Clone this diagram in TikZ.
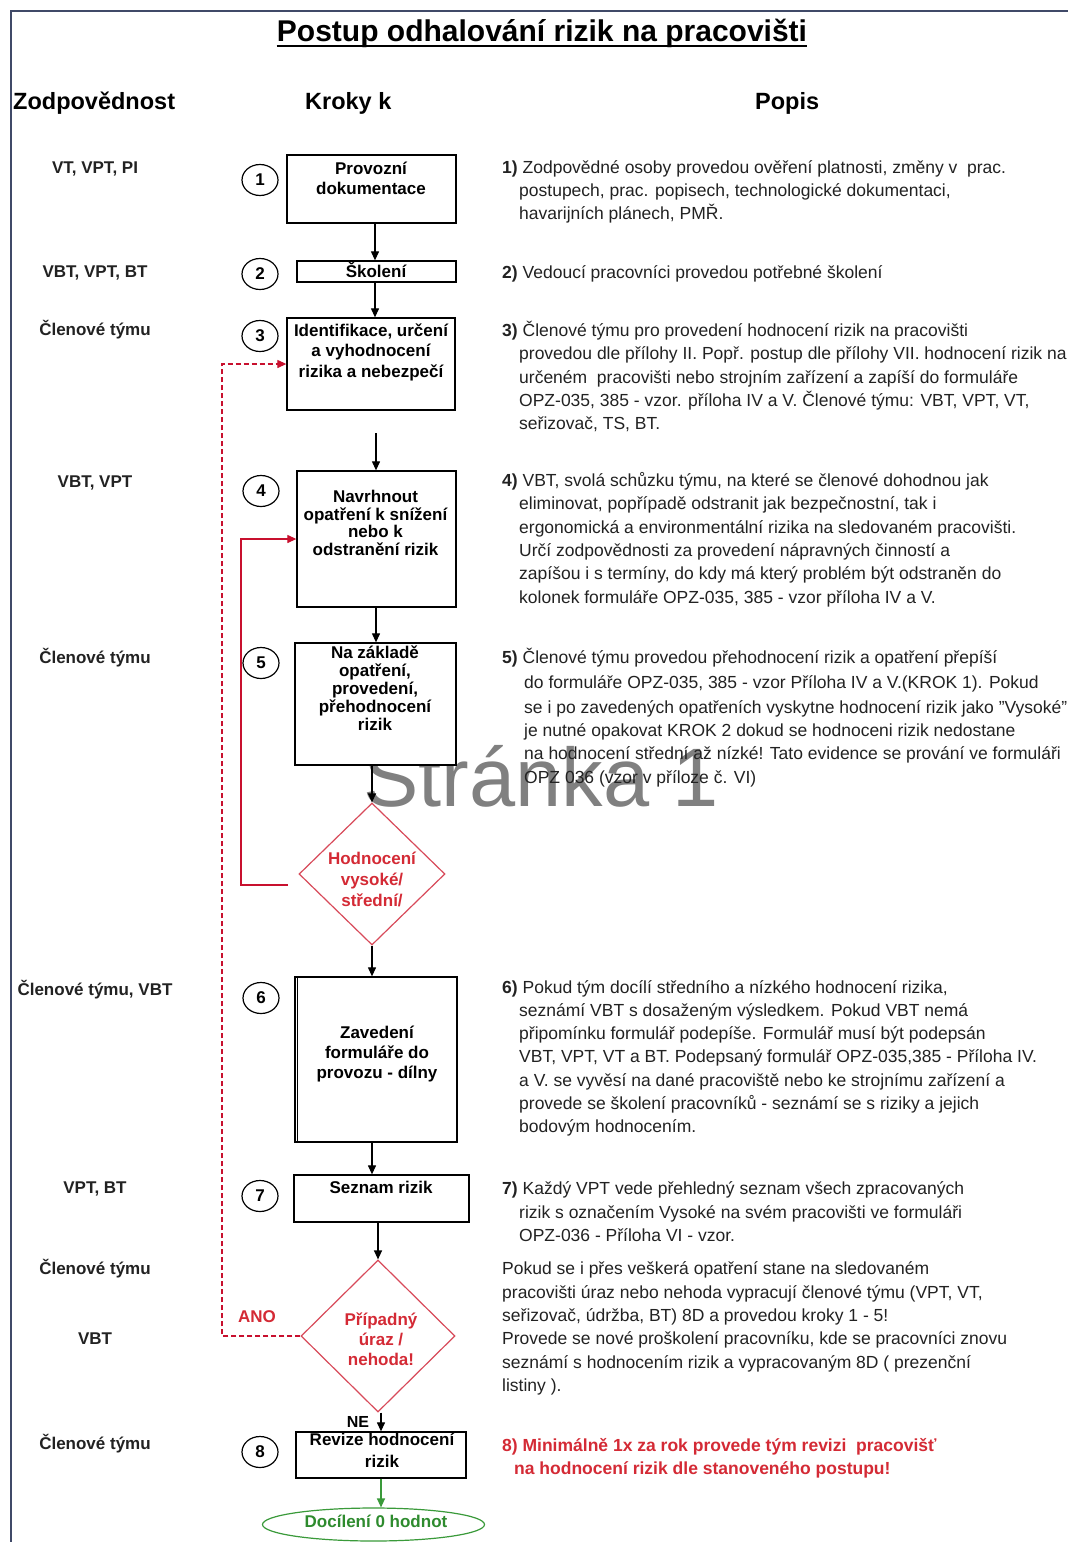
\documentclass[tikz,border=0pt]{standalone}
\usepackage{fontspec}
\setmainfont{Liberation Sans}
\usetikzlibrary{shapes.geometric,arrows.meta}
\definecolor{framec}{HTML}{404A68}
\definecolor{rline}{HTML}{C8102E}
\definecolor{rtext}{HTML}{D42A35}
\definecolor{rdia}{HTML}{D84A5A}
\definecolor{gline}{HTML}{3A9A3A}
\definecolor{gtext}{HTML}{2E8B2E}
\definecolor{txt}{HTML}{222222}
\begin{document}
\begin{tikzpicture}[x=1pt,y=-1pt,
  box/.style={draw=black, line width=1.3pt, rectangle, inner sep=0pt, fill=white},
  btxt/.style={font=\bfseries\fontsize{17}{20}\selectfont, align=center, anchor=base, text=black, inner sep=0pt},
  lab/.style={font=\bfseries\fontsize{17}{20}\selectfont, anchor=base, text=txt, inner sep=0pt},
  head/.style={font=\bfseries\fontsize{23.5}{28}\selectfont, anchor=base west, text=black, inner sep=0pt},
  desc/.style={font=\fontsize{17.5}{23}\selectfont, anchor=base west, text=txt, inner sep=0pt},
  rdesc/.style={font=\bfseries\fontsize{17.5}{23}\selectfont, anchor=base west, text=rtext, inner sep=0pt},
  num/.style={draw=black, line width=1.2pt, ellipse, minimum width=36pt, minimum height=31pt, inner sep=0pt, font=\bfseries\fontsize{17}{20}\selectfont},
  dia/.style={draw=rdia, line width=1.2pt, diamond, inner sep=0pt, fill=white},
  arr/.style={draw=black, line width=1.2pt, -{Triangle[length=9pt,width=8pt]}},
  rarr/.style={draw=rline, line width=1.2pt, -{Triangle[length=9pt,width=8pt]}},
  rdarr/.style={draw=rline, line width=1.2pt, dash pattern=on 5pt off 3pt, -{Triangle[length=9pt,width=8pt]}},
  garr/.style={draw=gline, line width=1.2pt, -{Triangle[length=9pt,width=8pt]}}
]
\useasboundingbox (0,0) rectangle (1068,1542);
\fill[white] (0,0) rectangle (1068,1542);
% frame
\draw[framec, line width=2pt] (11,1542) -- (11,11) -- (1068,11);
% watermark
\node[font=\fontsize{83}{90}\selectfont, text=black!50, anchor=base west, inner sep=0pt] (wm) at (363,806) {Stránka 1};
% title
\node[font=\bfseries\fontsize{30}{36}\selectfont, anchor=base, inner sep=0pt] (title) at (542,41) {Postup odhalování rizik na pracovišti};
\draw[line width=2.5pt] ([yshift=-5pt]title.base west) -- ([yshift=-5pt]title.base east);
% headings
\node[head] (h1) at (13,109) {Zodpovědnost};
\node[head] (h2) at (305,109) {Kroky k};
\node[head] (h3) at (755,109) {Popis};
% left labels
\node[lab] (l1) at (95,173) {VT, VPT, PI};
\node[lab] (l2) at (95,277) {VBT, VPT, BT};
\node[lab] (l3) at (95,335) {Členové týmu};
\node[lab] (l4) at (95,487) {VBT, VPT};
\node[lab] (l5) at (95,663) {Členové týmu};
\node[lab] (l6) at (95,995) {Členové týmu, VBT};
\node[lab] (l7) at (95,1193) {VPT, BT};
\node[lab] (l8) at (95,1274) {Členové týmu};
\node[lab] (l9) at (95,1344) {VBT};
\node[lab] (l10) at (95,1449) {Členové týmu};
% number circles
\node[num] (n1) at (260,180) {1};
\node[num] (n2) at (260,274) {2};
\node[num] (n3) at (260,336) {3};
\node[num] (n4) at (261,491) {4};
\node[num] (n5) at (261,663) {5};
\node[num] (n6) at (261,998) {6};
\node[num] (n7) at (260,1196) {7};
\node[num] (n8) at (260,1452) {8};
% boxes
\node[box, minimum width=169pt, minimum height=68pt] (b1) at (371.5,189) {};
\node[box, minimum width=159pt, minimum height=21pt] (b2) at (376.5,271.5) {};
\node[box, minimum width=168pt, minimum height=92pt] (b3) at (371,364) {};
\node[box, minimum width=159pt, minimum height=136pt] (b4) at (376.5,539) {};
\node[box, minimum width=161pt, minimum height=122pt] (b5) at (375.5,704) {};
\node[dia, minimum width=146pt, minimum height=142pt] (d1) at (372,874) {};
\node[box, minimum width=162pt, minimum height=165pt] (b6) at (376,1059.5) {};
\draw[line width=1.3pt] ([xshift=3pt]b6.north west) -- ([xshift=3pt]b6.south west);
\node[box, minimum width=175pt, minimum height=47pt] (b7) at (381.5,1198.5) {};
\node[dia, minimum width=154pt, minimum height=152pt] (d2) at (378,1336) {};
\node[box, minimum width=170pt, minimum height=46pt] (b8) at (381,1455) {};
\node[draw=gline, line width=1.2pt, ellipse, minimum width=222pt, minimum height=33pt, inner sep=0pt, fill=white] (e) at (373.5,1524.5) {};
% box texts (anchor=base is the baseline of the last line)
\node[btxt] (t1) at (371,194) {Provozní\\dokumentace};
\node[btxt] (t2) at (376,277) {Školení};
\node[btxt, font=\bfseries\fontsize{17}{20.5}\selectfont] (t3) at (371,377) {Identifikace, určení\\a vyhodnocení\\rizika a nebezpečí};
\node[btxt, font=\bfseries\fontsize{17}{17.5}\selectfont] (t4) at (375.5,555) {Navrhnout\\opatření k snížení\\nebo k\\odstranění rizik};
\node[btxt, font=\bfseries\fontsize{17}{18}\selectfont] (t5) at (375,730) {Na základě\\opatření,\\provedení,\\přehodnocení\\rizik};
\node[btxt, text=rtext, font=\bfseries\fontsize{17}{21}\selectfont] (td1) at (372,906) {Hodnocení\\vysoké/\\střední/};
\node[btxt] (t6) at (377,1078) {Zavedení\\formuláře do\\provozu - dílny};
\node[btxt] (t7) at (381,1193) {Seznam rizik};
\node[btxt, text=rtext] (td2) at (381,1365) {Případný\\úraz /\\nehoda!};
\node[btxt, font=\bfseries\fontsize{17}{22}\selectfont] (t8) at (382,1467) {Revize hodnocení\\rizik};
\node[btxt, text=gtext] (te) at (376,1527) {Docílení 0 hodnot};
\node[btxt, font=\bfseries\fontsize{16}{20}\selectfont] (ne) at (358,1427) {NE};
\node[btxt, text=rtext] (ano) at (257,1322) {ANO};
% coordinates
\coordinate (xa) at (375,0);
\coordinate (s4) at (376,433);
\coordinate (rs) at (288,885);
\coordinate (rc) at (241,539);
\coordinate (cdl) at (222,364);
% black arrows
\draw[arr] (b1.south -| xa) -- (b2.north -| xa);
\draw[arr] (b2.south -| xa) -- (b3.north -| xa);
\draw[arr] (s4) -- (b4.north -| s4);
\draw[arr] (b4.south -| s4) -- (b5.north -| s4);
\draw[arr] (b5.south -| d1.north) -- (d1.north);
\draw[arr] (d1.south) -- (b6.north -| d1.south);
\draw[arr] (b6.south -| d1.south) -- (b7.north -| d1.south);
\draw[arr] (b7.south -| d2.north) -- (d2.north);
\draw[arr] (d2.south -| b8.north) -- (b8.north);
\draw[garr] (b8.south) -- (b8.south |- e.north);
% red feedback
\draw[rarr] (rs) -| (rc) -- (b4.west);
\draw[rdarr] (d2.west) -| (cdl) -- (b3.west);
% descriptions
\node[desc] (a1) at (502,173) {\textbf{1)} Zodpovědné osoby provedou ověření platnosti, změny v~ prac.};
\node[desc] (a2) at (519,196) {postupech, prac. popisech, technologické dokumentaci,};
\node[desc] (a3) at (519,219) {havarijních plánech, PMŘ.};
\node[desc] (b21) at (502,278) {\textbf{2)} Vedoucí pracovníci provedou potřebné školení};
\node[desc] (c1) at (502,336) {\textbf{3)} Členové týmu pro provedení hodnocení rizik na pracovišti};
\node[desc] (c2) at (519,359) {provedou dle přílohy II. Popř. postup dle přílohy VII. hodnocení rizik na};
\node[desc] (c3) at (519,383) {určeném~ pracovišti nebo strojním zařízení a zapíší do formuláře};
\node[desc] (c4) at (519,406) {OPZ-035, 385 - vzor. příloha IV a V. Členové týmu: VBT, VPT, VT,};
\node[desc] (c5) at (519,429) {seřizovač, TS, BT.};
\node[desc] (f1) at (502,486) {\textbf{4)} VBT, svolá schůzku týmu, na které se členové dohodnou jak};
\node[desc] (f2) at (519,509) {eliminovat, popřípadě odstranit jak bezpečnostní, tak i};
\node[desc] (f3) at (519,533) {ergonomická a environmentální rizika na sledovaném pracovišti.};
\node[desc] (f4) at (519,556) {Určí zodpovědnosti za provedení nápravných činností a};
\node[desc] (f5) at (519,579) {zapíšou i s termíny, do kdy má který problém být odstraněn do};
\node[desc] (f6) at (519,603) {kolonek formuláře OPZ-035, 385 - vzor příloha IV a V.};
\node[desc] (g1) at (502,663) {\textbf{5)} Členové týmu provedou přehodnocení rizik a opatření přepíší};
\node[desc] (g2) at (524,688) {do formuláře OPZ-035, 385 - vzor Příloha IV a V.(KROK 1). Pokud};
\node[desc] (g3) at (524,713) {se i po zavedených opatřeních vyskytne hodnocení rizik jako \symbol{34}Vysoké\symbol{34}};
\node[desc] (g4) at (524,736) {je nutné opakovat KROK 2 dokud se hodnoceni rizik nedostane};
\node[desc] (g5) at (524,759) {na hodnocení střední až nízké! Tato evidence se prování ve formuláři};
\node[desc] (g6) at (524,783) {OPZ 036 (vzor v příloze č. VI)};
\node[desc] (k1) at (502,993) {\textbf{6)} Pokud tým docílí středního a nízkého hodnocení rizika,};
\node[desc] (k2) at (519,1016) {seznámí VBT s dosaženým výsledkem. Pokud VBT nemá};
\node[desc] (k3) at (519,1039) {připomínku formulář podepíše. Formulář musí být podepsán};
\node[desc] (k4) at (519,1062) {VBT, VPT, VT a BT. Podepsaný formulář OPZ-035,385 - Příloha IV.};
\node[desc] (k5) at (519,1086) {a V. se vyvěsí na dané pracoviště nebo ke strojnímu zařízení a};
\node[desc] (k6) at (519,1109) {provede se školení pracovníků - seznámí se s riziky a jejich};
\node[desc] (k7) at (519,1132) {bodovým hodnocením.};
\node[desc] (m1) at (502,1194) {\textbf{7)} Každý VPT vede přehledný seznam všech zpracovaných};
\node[desc] (m2) at (519,1218) {rizik s označením Vysoké na svém pracovišti ve formuláři};
\node[desc] (m3) at (519,1241) {OPZ-036 - Příloha VI - vzor.};
\node[desc] (p1) at (502,1274) {Pokud se i přes veškerá opatření stane na sledovaném};
\node[desc] (p2) at (502,1298) {pracovišti úraz nebo nehoda vypracují členové týmu (VPT, VT,};
\node[desc] (p3) at (502,1321) {seřizovač, údržba, BT) 8D a provedou kroky 1 - 5!};
\node[desc] (p4) at (502,1344) {Provede se nové proškolení pracovníku, kde se pracovníci znovu};
\node[desc] (p5) at (502,1368) {seznámí s hodnocením rizik a vypracovaným 8D ( prezenční};
\node[desc] (p6) at (502,1391) {listiny ).};
\node[rdesc] (q1) at (502,1451) {8) Minimálně 1x za rok provede tým revizi~ pracovišť};
\node[rdesc] (q2) at (514,1474) {na hodnocení rizik dle stanoveného postupu!};
\end{tikzpicture}
\end{document}
